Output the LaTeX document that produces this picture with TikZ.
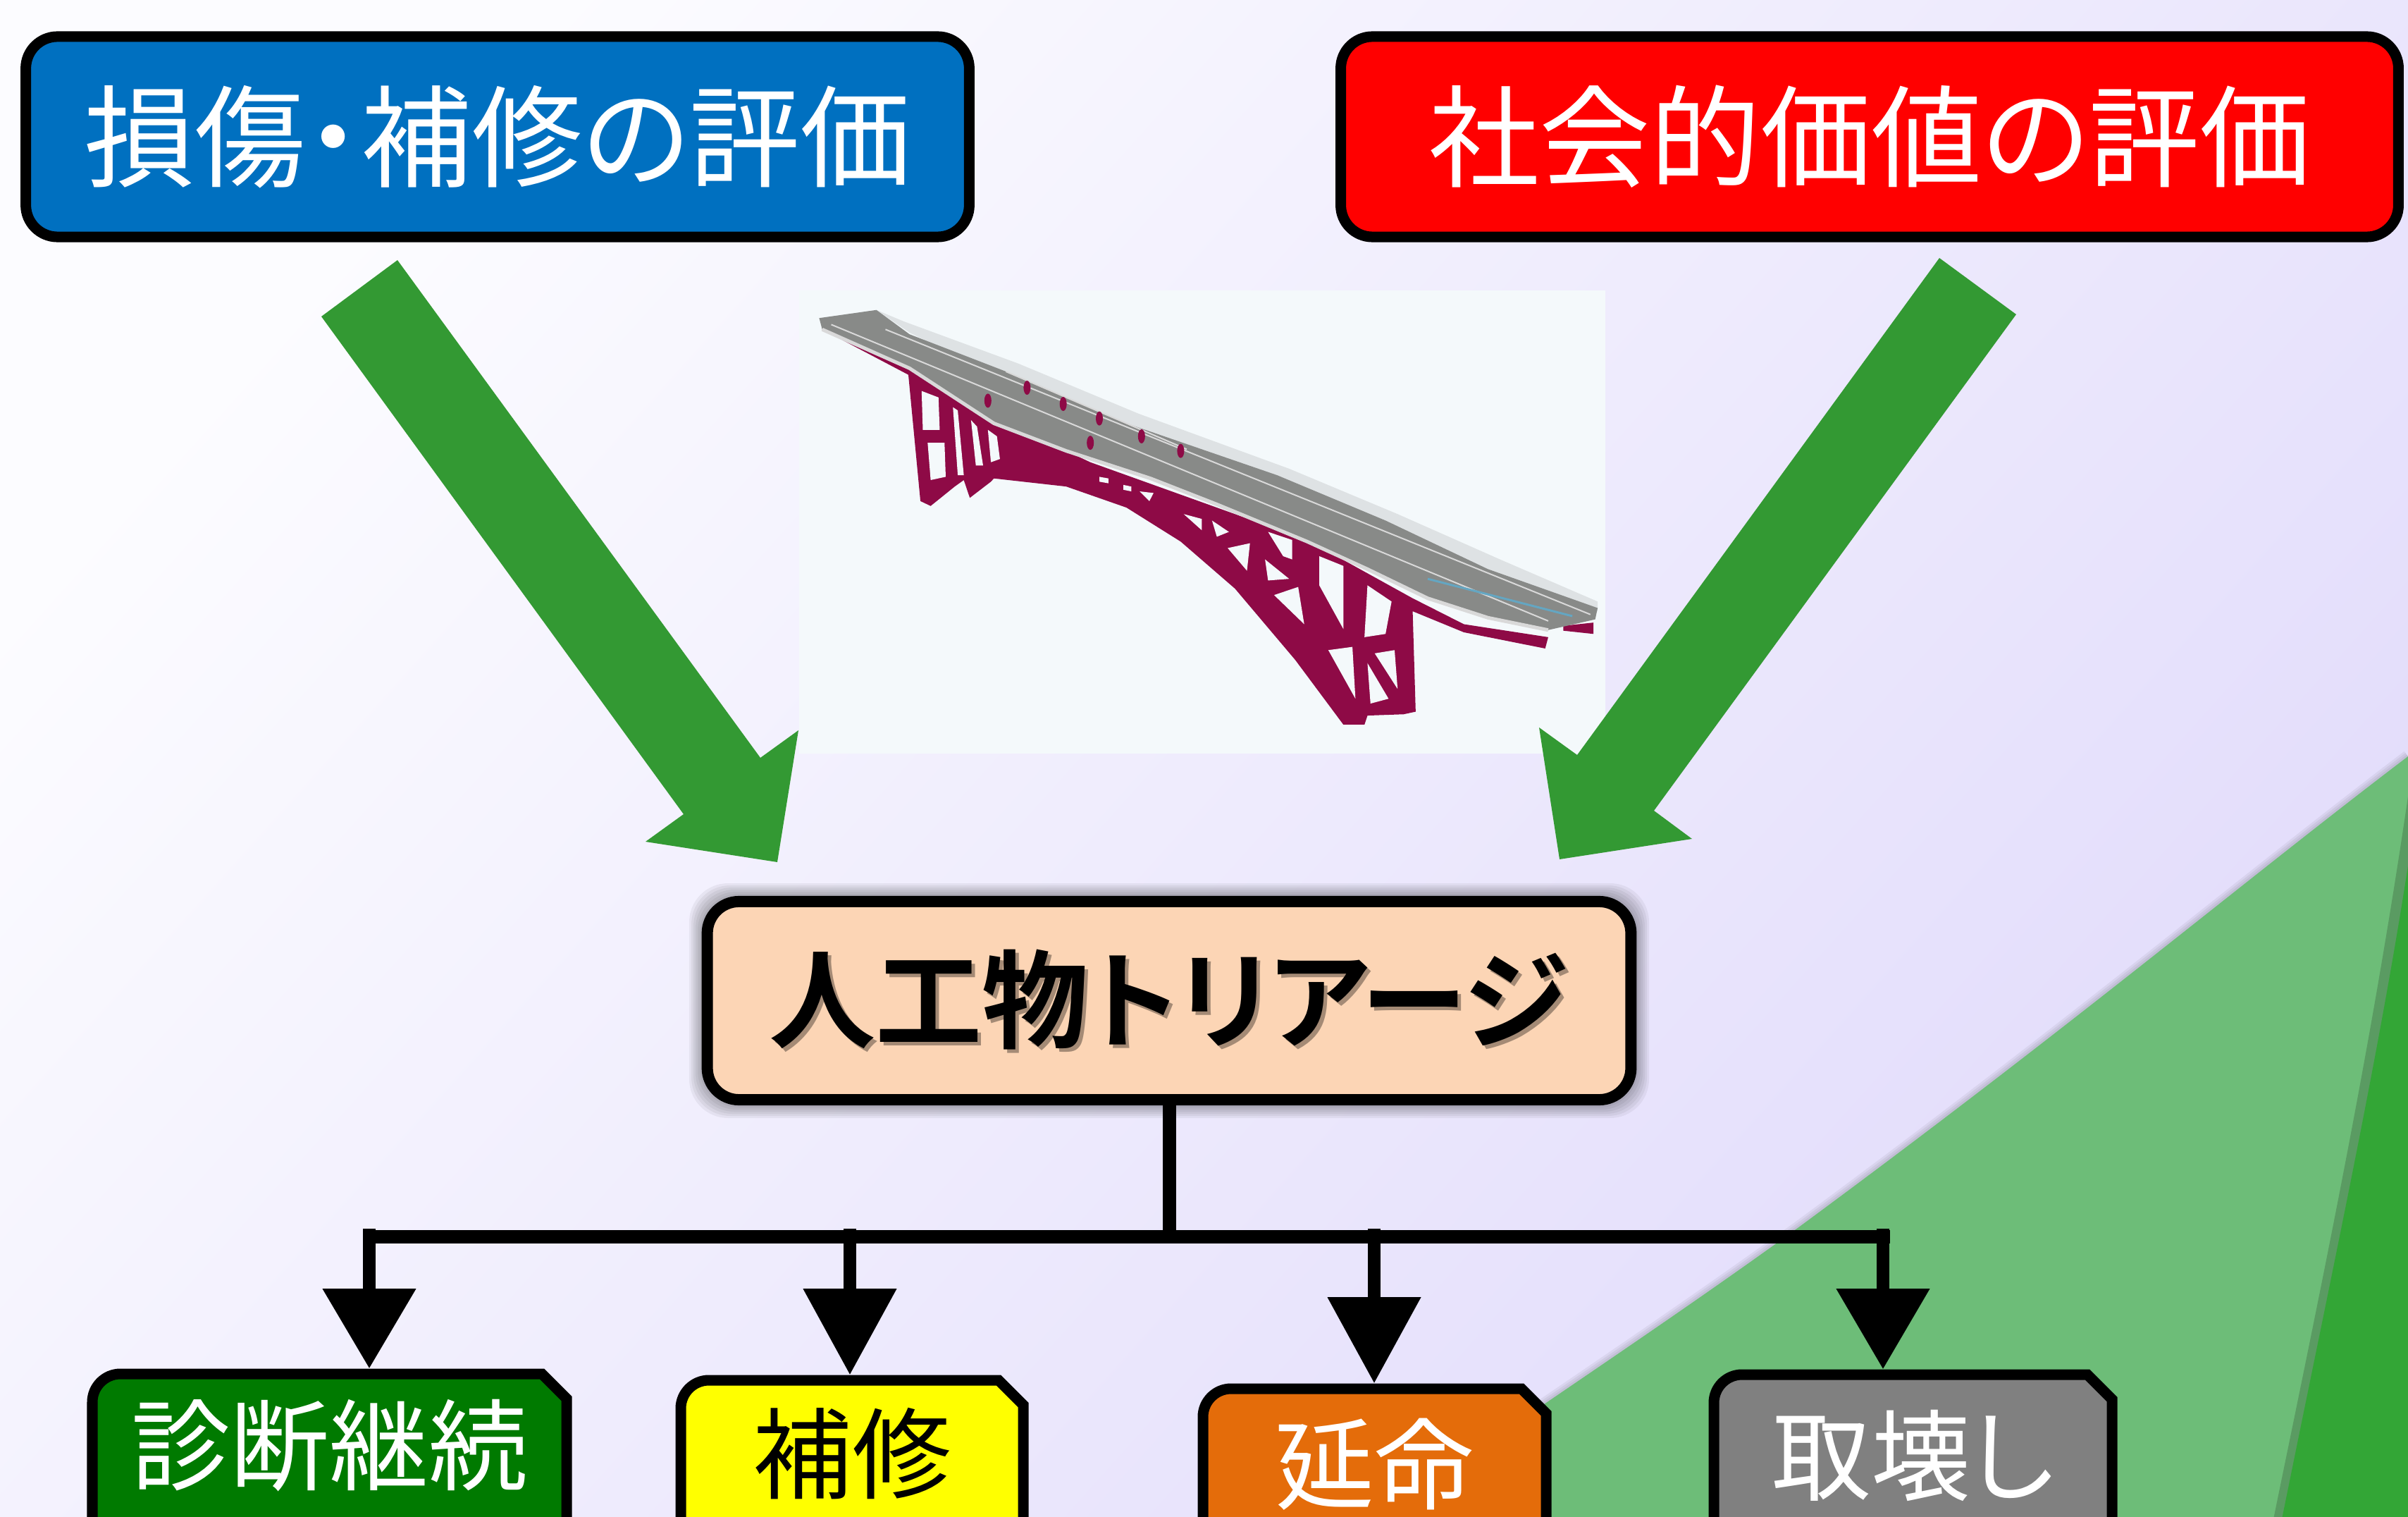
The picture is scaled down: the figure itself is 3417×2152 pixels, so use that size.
\documentclass[tikz,border=0pt]{standalone}
\usepackage{fontspec}
\setmainfont{Noto Sans CJK JP}[RawFeature={+palt},BoldFont={Noto Sans CJK JP Bold}]
\usetikzlibrary{arrows.meta}
\definecolor{backStart}{RGB}{252,252,255}
\definecolor{backEnd}{RGB}{226,220,251}
\definecolor{wedgeLight}{RGB}{109,189,120}
\definecolor{wedgeDark}{RGB}{51,166,54}
\definecolor{arrowGreen}{RGB}{51,153,51}
\definecolor{damageBlue}{RGB}{0,112,192}
\definecolor{triageSkin}{RGB}{252,213,181}
\definecolor{keepGreen}{RGB}{0,122,0}
\definecolor{repairYellow}{RGB}{255,255,0}
\definecolor{extendOrange}{RGB}{228,108,10}
\definecolor{photoBack}{RGB}{244,249,251}
\definecolor{steelRed}{RGB}{142,10,70}
\definecolor{deckGrey}{RGB}{136,138,136}
\tikzstyle{slide} = [x = .01cm, y = -.01cm]
\tikzstyle{headBox} = [draw=black, line width=.15cm, rounded corners=.45cm, inner sep=0, minimum height=2.84cm, text=white, font=\fontsize{44.7}{50}\selectfont]
\tikzstyle{triageBox} = [draw=black, fill=triageSkin, line width=.16cm, rounded corners=.45cm, inner sep=0, minimum width=13.1cm, minimum height=2.81cm]
\tikzstyle{triageText} = [inner sep=0, font=\fontsize{43}{50}\selectfont\bfseries]
\tikzstyle{actionLine} = [draw=black, line width=.15cm, line join=miter]
\tikzstyle{actionText} = [inner sep=0, font=\fontsize{40}{46}\selectfont]
\tikzstyle{bigArrow} = [fill=arrowGreen]
\tikzstyle{busLine} = [line width=.19cm]
\tikzset{dropArrow/.style={line width=.18cm, -{Triangle[width=1.28cm, length=#1]}}}
\newcommand{\wedgeEdge}{(3417,1073) .. controls (3175,1257) and (2950,1448) .. (2551,1742) .. controls (2340,1895) and (2100,2050) .. (1950,2160)}
\newcommand{\darkEdge}{(3417,1228) .. controls (3375,1500) and (3310,1800) .. (3237,2160)}
\newcommand{\actionBox}[8]{
  \filldraw [actionLine, fill=#6] (#2 + 7, #5) [rounded corners=.4cm] -- (#2 + 7, #3 + 7) [sharp corners] -- (#4 - 42, #3 + 7) -- (#4 - 7, #3 + 42) -- (#4 - 7, #5) -- cycle;
  \node (#1) [actionText, text=#7, minimum width={(#4 - #2) * .01cm}, minimum height={(#5 - #3) * .01cm}] at ({(#2 + #4) / 2}, {(#3 + #5) / 2}) {#8};
}
\begin{document}
\begin{tikzpicture}[slide]
  \useasboundingbox (0,0) rectangle (3417,2152);
  \clip (0,0) rectangle (3417,2152);
  \shade [shading=axis, bottom color=backStart, top color=backEnd, shading angle=-132] (0,0) rectangle (3417,2152);

  \foreach \spread in {3,6,9} {
    \draw [black, opacity=.05, line width=\spread * .02cm] \wedgeEdge;
  }
  \fill [wedgeLight] \wedgeEdge -- (3417,2160) -- cycle;
  \fill [black!18!wedgeLight] (3417,1130) .. controls (3364,1490) and (3299,1800) .. (3225,2160) -- (3417,2160) -- cycle;
  \fill [wedgeDark] \darkEdge -- (3417,2160) -- cycle;

  \fill [photoBack] (1134,412) rectangle (2278,1069);
  \begin{scope}[shift={(1000,380)}, x=.00855cm, y=-.00459cm]
    \fill [steelRed] (195,190) -- (338,330) -- (358,720) -- (375,735) -- (415,675) -- (430,655) -- (440,710) -- (475,660) -- (480,650) -- (600,675) -- (700,740) -- (790,845) -- (880,990) -- (980,1210) -- (1060,1410) -- (1095,1410) -- (1100,1382) -- (1160,1378) -- (1180,1370) -- (1175,1060) -- (1260,1125) -- (1395,1175) -- (1400,1140) -- (1260,1100) -- (1175,1020) -- (1000,840) -- (640,600) -- (480,460) -- (340,300) -- (200,170) -- cycle;
    \fill [steelRed] (1425,1105) -- (1475,1095) -- (1475,1130) -- (1425,1120) -- cycle;
    \fill [photoBack]
      (360,380) -- (388,400) -- (390,500) -- (362,500) -- cycle
      (370,540) -- (398,540) -- (400,645) -- (375,655) -- cycle
      (412,430) -- (420,440) -- (430,640) -- (420,640) -- cycle
      (442,470) -- (452,490) -- (462,610) -- (450,610) -- cycle
      (470,500) -- (485,520) -- (490,590) -- (475,600) -- cycle
      (655,645) -- (670,650) -- (670,665) -- (655,660) -- cycle
      (695,670) -- (708,675) -- (708,690) -- (695,685) -- cycle
      (722,690) -- (745,695) -- (738,720) -- cycle
      (795,760) -- (825,775) -- (825,810) -- cycle
      (842,780) -- (870,815) -- (850,830) -- cycle
      (868,865) -- (905,850) -- (900,935) -- cycle
      (935,815) -- (975,840) -- (975,900) -- (960,890) -- cycle
      (930,900) -- (970,960) -- (935,965) -- cycle
      (945,1010) -- (985,985) -- (995,1100) -- cycle
      (1020,890) -- (1060,920) -- (1060,1115) -- (1020,980) -- cycle
      (1100,980) -- (1140,1030) -- (1130,1130) -- (1095,1140) -- cycle
      (1035,1180) -- (1075,1170) -- (1080,1330) -- cycle
      (1112,1190) -- (1145,1180) -- (1150,1300) -- cycle
      (1100,1220) -- (1135,1330) -- (1105,1345) -- cycle;
    \fill [deckGrey, opacity=.2] (285,130) -- (330,165) -- (520,295) -- (720,450) -- (970,620) -- (1150,760) -- (1320,900) -- (1482,1030) -- (1482,1060) -- (1000,800) -- (340,200) -- cycle;
    \fill [deckGrey] (190,155) -- (285,130) -- (340,205) -- (500,320) -- (700,480) -- (950,640) -- (1130,780) -- (1300,930) -- (1482,1050) -- (1478,1085) -- (1400,1118) -- (1300,1080) -- (1200,1020) -- (1100,930) -- (1000,845) -- (850,730) -- (740,650) -- (600,565) -- (480,480) -- (340,310) -- (195,190) -- cycle;
    \draw [black!15, line width=.05cm] (195,190) -- (340,310) -- (480,480) -- (600,565) -- (740,650) -- (850,730) -- (1000,845) -- (1100,930) -- (1200,1020) -- (1300,1080) -- (1400,1118);
    \foreach \fromX/\fromY/\toX/\toY in {210/175/1400/1090, 300/190/1470/1070, 500/320/800/560} {
      \draw [black!15, line width=.02cm] (\fromX,\fromY) -- (\toX,\toY);
    }
    \draw [cyan!50!gray, line width=.03cm] (1200,960) -- (1440,1075);
    \foreach \markX/\markY in {535/370, 595/420, 655/465, 725/520, 790/565, 470/410, 640/540} {
      \fill [steelRed] (\markX,\markY) circle [x radius=.05cm, y radius=.1cm];
    }
  \end{scope}

  \fill [bigArrow] (564,369) -- (456,449) -- (970,1155) -- (916,1194) -- (1103,1223) -- (1133,1036) -- (1079,1075) -- cycle;
  \fill [bigArrow] (2752,366) -- (2861,446) -- (2347,1150) -- (2401,1190) -- (2213,1219) -- (2184,1032) -- (2238,1071) -- cycle;

  \node (damageBox) [headBox, fill=damageBlue, minimum width=13.38cm] at (706,194) {損傷・補修の評価};
  \node (valueBox) [headBox, fill=red, minimum width=15cm] at (2653,194) {社会的価値の評価};

  \foreach \spread in {3,6,...,18} {
    \fill [black, opacity=.05, rounded corners=.55cm] (996 - \spread,1271 - \spread) rectangle (2322 + \spread,1568 + \spread);
  }
  \node (triageBox) [triageBox] at (1659,1419.5) {};
  \node (triageShadow) [triageText, opacity=.35] at (1663,1423) {人工物トリアージ};
  \node (triageLabel) [triageText] at (1658,1418) {人工物トリアージ};

  \actionBox{keepBox}{124}{1942}{811}{2160}{keepGreen}{white}{診断継続}
  \actionBox{repairBox}{959}{1951}{1459}{2173}{repairYellow}{black}{補修}
  \actionBox{extendBox}{1700}{1963}{2201}{2191}{extendOrange}{white}{延命}
  \actionBox{removeBox}{2425}{1943}{3004}{2187}{gray}{white}{取壊し}

  \coordinate (busLeft) at (515,1754.5);
  \coordinate (busRight) at (2682,1754.5);
  \coordinate (keepDrop) at (524,1743);
  \coordinate (repairDrop) at (1206,1743);
  \coordinate (extendDrop) at (1950,1743);
  \coordinate (removeDrop) at (2672,1743);
  \draw [busLine] (triageBox.south) -- (triageBox.south |- busLeft);
  \draw [busLine] (busLeft) -- (busRight);
  \draw [dropArrow=1.13cm] (keepDrop) -- (keepDrop |- keepBox.north);
  \draw [dropArrow=1.22cm] (repairDrop) -- (repairDrop |- repairBox.north);
  \draw [dropArrow=1.22cm] (extendDrop) -- (extendDrop |- extendBox.north);
  \draw [dropArrow=1.14cm] (removeDrop) -- (removeDrop |- removeBox.north);
\end{tikzpicture}
\end{document}
